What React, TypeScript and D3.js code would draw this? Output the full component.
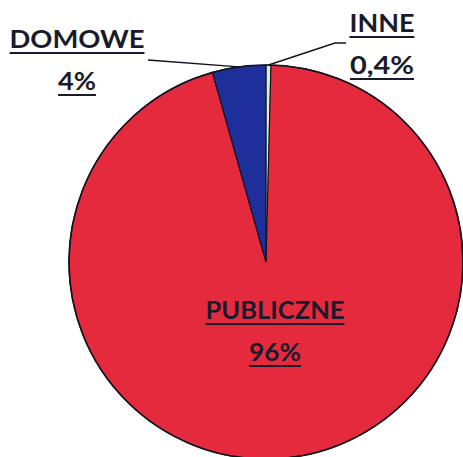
import * as d3 from "d3";

// pie data (clockwise from 12 o'clock)
const categories = ["INNE", "PUBLICZNE", "DOMOWE"];
const values = [0.4, 95.6, 4.4];
const percentLabels = ["0,4%", "96%", "4%"];
const colors = ["#d9eed8", "#e62a3e", "#1e2f9c"];

const width = 463;
const height = 457;
const cx = 266;
const cy = 262;
const radius = 197;
const textColor = "#1b1a2c";

// where each label block sits (centre x, baseline of the name row)
const labelPos: Record<string, { x: number; y: number; w1: number; w2: number }> = {
  INNE: { x: 382, y: 32, w1: 65, w2: 64 },
  PUBLICZNE: { x: 275, y: 319, w1: 139, w2: 52 },
  DOMOWE: { x: 77, y: 48, w1: 135, w2: 38 },
};

export default function App() {
  const pie = d3.pie<number>().sort(null).value((d) => d);
  const arcs = pie(values);
  const arc = d3.arc<d3.PieArcDatum<number>>().innerRadius(0).outerRadius(radius);

  const edgePoint = (a: d3.PieArcDatum<number>) => {
    const mid = (a.startAngle + a.endAngle) / 2;
    return [cx + radius * Math.sin(mid), cy - radius * Math.cos(mid)];
  };

  const inne = edgePoint(arcs[0]);
  const dom = edgePoint(arcs[2]);

  return (
    <svg
      width={width}
      height={height}
      style={{ position: "absolute", left: 0, top: 0, background: "white" }}
    >
      <g transform={`translate(${cx},${cy})`}>
        {arcs.map((a, i) => (
          <path
            key={categories[i]}
            d={arc(a) || ""}
            fill={colors[i]}
            stroke={i === 0 ? "#2d6b3a" : "#14121f"}
            strokeWidth={i === 0 ? 0.8 : 1.2}
          />
        ))}
        <circle r={radius} fill="none" stroke="#14121f" strokeWidth={1.6} />
      </g>

      {/* leader lines */}
      <polyline
        points={`${inne[0]},${inne[1]} 335,43 346,43`}
        fill="none"
        stroke="#14121f"
        strokeWidth={1.4}
      />
      <polyline
        points={`148,60 ${dom[0]},${dom[1]}`}
        fill="none"
        stroke="#14121f"
        strokeWidth={1.4}
      />

      {categories.map((c, i) => {
        const p = labelPos[c];
        return (
          <g
            key={c}
            fontFamily="Lato, 'Open Sans', sans-serif"
            fontWeight={700}
            fontSize={24}
            fill={textColor}
            textAnchor="middle"
          >
            <text
              x={p.x}
              y={p.y}
              textLength={p.w1}
              lengthAdjust="spacingAndGlyphs"
            >
              {c}
            </text>
            <line x1={p.x - p.w1 / 2} x2={p.x + p.w1 / 2} y1={p.y + 5} y2={p.y + 5} stroke={textColor} strokeWidth={2} />
            <text
              x={p.x}
              y={p.y + 42}
              textLength={p.w2}
              lengthAdjust="spacingAndGlyphs"
            >
              {percentLabels[i]}
            </text>
            <line x1={p.x - p.w2 / 2} x2={p.x + p.w2 / 2} y1={p.y + 47} y2={p.y + 47} stroke={textColor} strokeWidth={2} />
          </g>
        );
      })}
    </svg>
  );
}
